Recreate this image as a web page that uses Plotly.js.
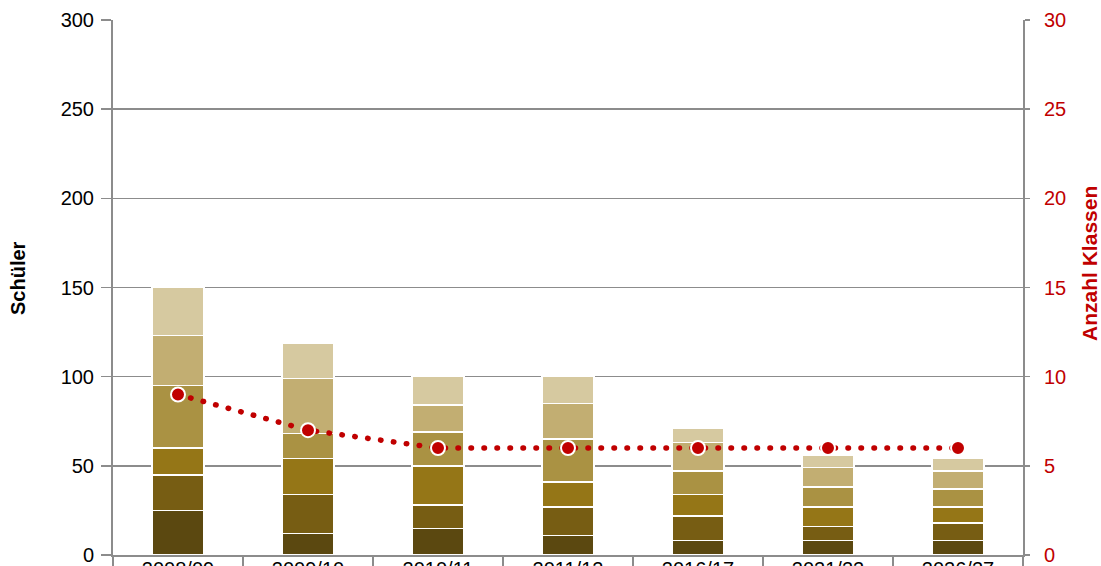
<!DOCTYPE html>
<html>
<head>
<meta charset="utf-8">
<script src="https://cdn.plot.ly/plotly-3.0.1.min.js"></script>
<style>
html,body{margin:0;padding:0;background:#fff;}
#chart{width:1101px;height:566px;}
.scatterlayer path.js-line{stroke-linecap:round;}
</style>
</head>
<body>
<div id="chart"></div>
<script>
const years = ["2008/09","2009/10","2010/11","2011/12","2016/17","2021/22","2026/27"];
// stacked segments, bottom to top
const seg1 = [25, 12, 15, 11, 8, 8, 8];
const seg2 = [20, 22, 13, 16, 14, 8, 10];
const seg3 = [15, 20, 22, 14, 12, 11, 9];
const seg4 = [35, 14, 19, 24, 13, 11, 10];
const seg5 = [28, 31, 15, 20, 16, 11, 10];
const seg6 = [27, 20, 16, 15, 8, 7, 7];
const klassen = [9, 7, 6, 6, 6, 6, 6];
const leftTitle = "Schüler";
const rightTitle = "Anzahl Klassen";

const segs = [seg1, seg2, seg3, seg4, seg5, seg6];
const colors = ["#5b4810", "#775d13", "#957617", "#aa9243", "#c2ae72", "#d6c9a0"];

const traces = segs.map((s, i) => ({
  type: "bar",
  x: years,
  y: s,
  marker: {color: colors[i], line: {color: "#ffffff", width: 1.5}},
  hoverinfo: "y",
  showlegend: false
}));

traces.push({
  type: "scatter",
  mode: "lines+markers",
  x: years,
  y: klassen,
  yaxis: "y2",
  line: {color: "#c00000", width: 5.5, dash: "0.5px,12.5px"},
  marker: {color: "#c00000", size: 14, symbol: "circle", line: {color: "#ffffff", width: 2}},
  showlegend: false
});

const FAM = "Liberation Sans, Arial, sans-serif";
const font = {family: FAM, size: 20, color: "#000"};

const layout = {
  width: 1101,
  height: 566,
  margin: {l: 113, r: 78, t: 20, b: 11},
  barmode: "stack",
  bargap: 0.6,
  paper_bgcolor: "#fff",
  plot_bgcolor: "#fff",
  font: font,
  showlegend: false,
  xaxis: {
    type: "category",
    showgrid: false,
    showline: true,
    linecolor: "#8c8c8c",
    linewidth: 2,
    ticks: "outside",
    tickson: "boundaries",
    ticklen: 12,
    tickcolor: "#8c8c8c",
    tickwidth: 1.5,
    ticklabelstandoff: -5,
    tickfont: font
  },
  yaxis: {
    range: [0, 300],
    dtick: 50,
    showgrid: true,
    gridcolor: "#8c8c8c",
    gridwidth: 1.5,
    showline: true,
    linecolor: "#8c8c8c",
    linewidth: 2,
    ticks: "outside",
    ticklen: 10,
    tickcolor: "#8c8c8c",
    tickwidth: 1.5,
    ticklabelstandoff: 3,
    tickfont: font,
    zeroline: false
  },
  yaxis2: {
    overlaying: "y",
    side: "right",
    range: [0, 30],
    dtick: 5,
    showgrid: false,
    showline: true,
    linecolor: "#8c8c8c",
    linewidth: 2,
    ticks: "outside",
    ticklen: 5,
    tickcolor: "#8c8c8c",
    tickwidth: 1.5,
    ticklabelstandoff: 10,
    tickfont: {family: FAM, size: 20, color: "#c00000"},
    zeroline: false
  },
  annotations: [
    {text: leftTitle, xref: "paper", yref: "paper", x: -0.1044, y: 0.5178,
     xanchor: "center", yanchor: "middle", textangle: -90, showarrow: false,
     font: {family: FAM, size: 20, color: "#000", weight: "bold"}},
    {text: rightTitle, xref: "paper", yref: "paper", x: 1.0736, y: 0.5458,
     xanchor: "center", yanchor: "middle", textangle: -90, showarrow: false,
     font: {family: FAM, size: 21, color: "#c00000", weight: "bold"}}
  ]
};

Plotly.newPlot("chart", traces, layout, {displayModeBar: false, staticPlot: true});
</script>
</body>
</html>
